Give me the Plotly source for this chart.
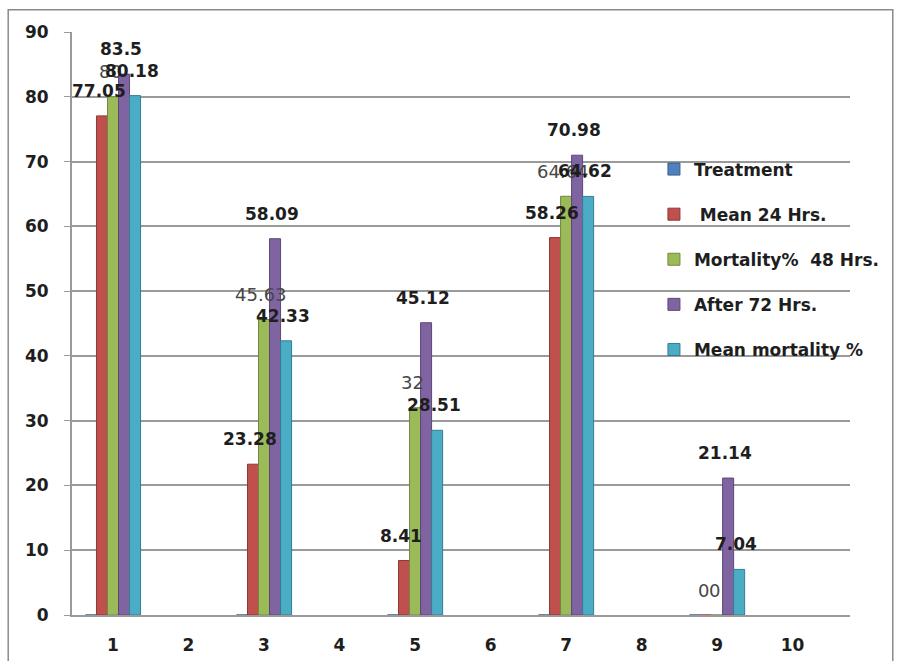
import plotly.graph_objects as go

# Treatment groups on the category axis
categories = [1, 2, 3, 4, 5, 6, 7, 8, 9, 10]

# Series values (None = no bar for that treatment)
treatment = [0, None, 0, None, 0, None, 0, None, 0, None]
mean_24 = [77.05, None, 23.28, None, 8.41, None, 58.26, None, 0, None]
mortality_48 = [80, None, 45.63, None, 32, None, 64.64, None, 0, None]
after_72 = [83.5, None, 58.09, None, 45.12, None, 70.98, None, 21.14, None]
mean_mortality = [80.18, None, 42.33, None, 28.51, None, 64.62, None, 7.04, None]

series_names = ["Treatment", " Mean 24 Hrs.", "Mortality%  48 Hrs.",
                "After 72 Hrs.", "Mean mortality %"]
y_ticks = [0, 10, 20, 30, 40, 50, 60, 70, 80, 90]
x_ticks = categories

series = [treatment, mean_24, mortality_48, after_72, mean_mortality]
fills = ["#4F81BD", "#C0504D", "#9BBB59", "#8064A2", "#4BACC6"]
edges = ["#385D8A", "#8C3836", "#71893F", "#5C4776", "#357D91"]
labelled = [False, True, True, True, True]
label_bold = [False, True, False, True, True]

BARGAP = 0.27
bar_w = (1 - BARGAP) / len(series)
FONT = "DejaVu Sans"
TEXT = "#1e1e1e"

fig = go.Figure()
for i, (name, vals) in enumerate(zip(series_names, series)):
    fig.add_trace(go.Bar(
        x=categories, y=vals, name=name,
        marker=dict(color=fills[i], line=dict(color=edges[i], width=1)),
        legendgroup=f"g{i}",
        hoverinfo="skip",
    ))

# Value labels above each bar
annotations = []
for i, vals in enumerate(series):
    if not labelled[i]:
        continue
    offset = (i - (len(series) - 1) / 2) * bar_w
    for c, v in zip(categories, vals):
        if v is None:
            continue
        bold = label_bold[i] and v != 0
        annotations.append(dict(
            x=c + offset, y=v, xref="x", yref="y", text=f"{v:g}",
            showarrow=False, yshift=25, xshift=-3,
            font=dict(family=FONT, size=17 if bold else 18,
                      weight="bold" if bold else "normal",
                      color=TEXT if bold else "#474747"),
        ))

fig.update_layout(
    width=902, height=661,
    margin=dict(l=72, r=52, t=32, b=46),
    paper_bgcolor="white", plot_bgcolor="white",
    barmode="group", bargap=BARGAP, bargroupgap=0,
    font=dict(family=FONT, color=TEXT),
    showlegend=True,
    legend=dict(
        x=0.748, y=0.795, xanchor="left", yanchor="top",
        bgcolor="rgba(0,0,0,0)", traceorder="grouped", tracegroupgap=20,
        font=dict(family=FONT, size=17, weight="bold", color=TEXT),
        itemwidth=30,
    ),
    annotations=annotations,
    shapes=[dict(type="rect", xref="paper", yref="paper",
                 x0=-0.082, x1=1.055, y0=-0.2, y1=1.038,
                 line=dict(color="#8a8a8a", width=1.5), layer="below")],
)

fig.update_xaxes(
    range=[0.457, 10.76], tickmode="array", tickvals=x_ticks,
    tickfont=dict(family=FONT, size=17, weight="bold", color=TEXT),
    showgrid=False, zeroline=False, automargin=False,
    showline=True, linecolor="#9a9a9a", linewidth=2,
    ticks="outside", ticklen=0, ticklabelstandoff=14,
)
fig.update_yaxes(
    range=[0, 90], tickmode="array", tickvals=y_ticks,
    tickfont=dict(family=FONT, size=17, weight="bold", color=TEXT),
    showgrid=True, gridcolor="#9a9a9a", gridwidth=1.5, automargin=False,
    zeroline=False, showline=True, linecolor="#9a9a9a", linewidth=2,
    ticks="outside", ticklen=6, tickcolor="#9a9a9a", ticklabelstandoff=12,
)

fig.write_html("out.html")
